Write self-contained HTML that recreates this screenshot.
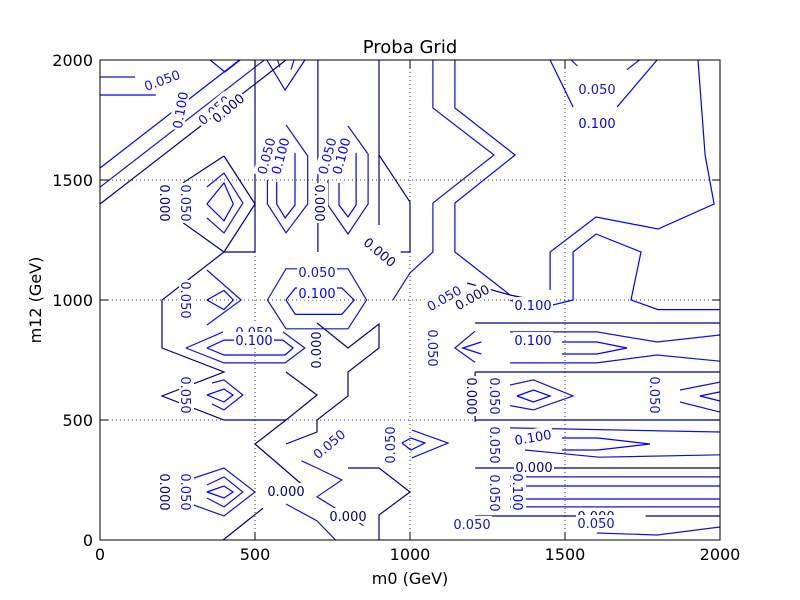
<!DOCTYPE html>
<html><head><meta charset="utf-8"><style>
html,body{margin:0;padding:0;background:#fff;}
svg{display:block;font-family:"DejaVu Sans","Liberation Sans",sans-serif;}
</style></head><body>
<svg id="chart" width="800" height="600" viewBox="0 0 800 600" xmlns="http://www.w3.org/2000/svg">
<rect x="0" y="0" width="800" height="600" fill="#fff"/>
<text x="410" y="53" font-size="18" text-anchor="middle">Proba Grid</text>
<g id="grid"></g>
<g id="contours"></g>
<g id="labels"></g>
<rect x="100" y="60" width="620" height="480" fill="none" stroke="#000" stroke-width="1"/>
<g id="ticks"></g>
<text x="410" y="584" font-size="16" text-anchor="middle">m0 (GeV)</text>
<text x="41" y="300" font-size="16" text-anchor="middle" transform="rotate(-90 41 300)">m12 (GeV)</text>
</svg>
<script>
const xTicks = [0, 500, 1000, 1500, 2000];
const yTicks = [0, 500, 1000, 1500, 2000];
const levels = ["0.000", "0.050", "0.100"];
const levelColors = ["#000080", "#1414c8", "#0000ff"];
// contour paths: [[m0, m12], ...]
const level0Paths = [
  [[0,1400],[600,2000]],
  [[500,2000],[500,1200],[400,1200],[200,1000],[200,800],[400,700],[200,600],[400,500],[600,500],[700,604],[600,700]],
  [[400,1600],[270,1490],[270,1320],[400,1200],[500,1400],[400,1600]],
  [[703,2000],[703,1200]],
  [[900,2000],[900,1604],[1000,1408],[1000,1200],[970,1200]],
  [[900,1604],[900,1312]],
  [[700,904],[800,800],[900,900],[900,800],[800,700],[800,600],[700,500],[700,450],[600,400]],
  [[600,500],[500,400],[661,221]],
  [[397,0],[526,133]],
  [[800,300],[900,300],[1000,200],[900,104],[900,0]],
  [[1184,1071],[1323,1021],[1400,1000]],
  [[1210,904],[2000,904]],
  [[1210,700],[2000,700]],
  [[1210,700],[1210,492]],
  [[1210,500],[2000,500]],
  [[1210,300],[2000,300]],
  [[1210,100],[1550,100]],[[1760,100],[2000,100]]
];
const level1Paths = [
  [[0,1929],[113,1929]],
  [[0,1470],[530,2000]],
  [[345,1471],[400,1529],[461,1404],[400,1279],[345,1342]],
  [[540,1500],[540,1400],[600,1280],[670,1400],[670,1600],[600,1730]],
  [[735,1500],[735,1396],[800,1275],[865,1400],[865,1608],[800,1725]],
  [[1074,2000],[1074,1800],[1271,1604],[1074,1404],[1074,1200],[1000,1113],[945,1000]],
  [[573,2000],[580,1970]],[[616,1960],[626,2000]],
  [[1520,2000],[1540,1975]],[[1700,1960],[1740,2000]],
  [[540,1000],[600,1130],[800,1130],[860,1000],[800,880],[600,880],[540,1000]],
  [[345,1125],[455,1000],[345,896]],
  [[277,800],[397,867]],[[590,867],[661,800],[597,738],[400,738],[277,800]],
  [[361,654],[400,667],[461,604],[400,542],[361,567]],
  [[284,250],[400,300],[500,200],[400,100],[284,154]],
  [[345,229],[400,263],[461,200],[400,138],[345,175]],
  [[1006,458],[1123,404],[1006,342]],
  [[1210,870],[1145,800],[1210,740]],
  [[1323,867],[1603,867],[1797,825],[2000,854]],
  [[1323,738],[1603,738],[1797,771],[2000,745]],
  [[1323,646],[1398,667],[1526,600],[1398,542],[1323,560]],
  [[2000,658],[1871,625]],[[1871,575],[2000,533]],
  [[1323,467],[2000,450]],
  [[1371,375],[1610,345],[2000,355]],
  [[1323,263],[2000,263]],
  [[1323,138],[2000,138]],
  [[1603,29],[1797,21],[2000,54]],
  [[650,330],[700,300],[780,250],[700,180],[800,100],[850,60]],
  [[600,150],[700,80],[760,0]]
];
const level2Paths = [
  [[0,1854],[180,1854]],
  [[0,1550],[450,2000]],
  [[355,2000],[403,1950],[452,2000]],
  [[538,2000],[597,1875],[661,2000]],
  [[570,1492],[570,1400],[597,1342],[629,1396],[629,1613]],
  [[771,1488],[771,1396],[800,1346],[826,1396],[826,1613]],
  [[345,1400],[400,1488],[430,1400],[400,1330],[345,1400]],
  [[1145,2000],[1145,1800],[1339,1604],[1145,1404],[1145,1200],[1323,1021]],
  [[1452,1042],[1452,1200],[1600,1346],[1800,1296],[1981,1400],[1952,1604],[1929,2000]],
  [[1323,1000],[1400,960],[1526,1000],[1526,1200],[1600,1275],[1745,1200],[1713,1000],[1800,960],[2000,960]],
  [[1452,2000],[1526,1804]],[[1668,1804],[1797,2000]],
  [[600,1000],[630,1050],[780,1050],[820,1000],[780,940],[630,940],[600,1000]],
  [[345,1000],[400,1040],[430,1000],[400,960],[345,1000]],
  [[345,800],[400,833],[590,833],[623,800],[597,771],[400,771],[345,800]],
  [[345,604],[400,629],[429,604],[400,575],[345,604]],
  [[345,200],[400,225],[429,200],[400,175],[345,200]],
  [[974,404],[1003,425],[1048,404],[1003,375],[974,404]],
  [[1230,825],[1170,800],[1230,775]],
  [[1490,825],[1603,825],[1700,800],[1603,775],[1490,775]],
  [[1345,600],[1398,625],[1452,600],[1398,575],[1345,600]],
  [[2000,617],[1935,600],[2000,579]],
  [[1490,425],[1606,425],[1774,400],[1606,375],[1490,375]],
  [[1323,225],[2000,225]],
  [[1323,171],[2000,171]]
];
const labelTexts = [
 ["0.050",162,80,-20,1],["0.100",180,110,-80,2],["0.050",214,110,-40,1],["0.000",228,108,-40,0],
 ["0.000",165,203,90,0],["0.050",186,203,90,1],["0.050",266,156,-75,1],["0.100",280,156,-75,2],
 ["0.050",327,156,-75,1],["0.100",341,156,-75,2],["0.000",320,203,90,0],["0.000",380,252,40,0],
 ["0.050",317,272,0,1],["0.100",317,293,0,2],["0.050",186,300,90,1],["0.050",254,332,0,1],
 ["0.100",254,340,0,2],["0.000",316,350,-90,0],["0.050",444,298,-30,1],["0.000",472,297,-30,0],
 ["0.100",533,305,0,2],["0.050",433,348,90,1],["0.100",533,340,0,2],["0.050",186,395,90,1],
 ["0.000",472,396,90,0],["0.050",495,396,90,1],["0.050",655,395,90,1],["0.050",329,444,-40,1],
 ["0.050",390,445,-90,1],["0.100",533,437,-10,2],["0.050",495,445,90,1],["0.000",534,467,0,0],
 ["0.050",495,493,90,1],["0.100",518,492,90,2],["0.000",165,492,90,0],["0.050",186,492,90,1],
 ["0.000",286,491,0,0],["0.000",348,516,0,0],["0.050",472,524,0,1],["0.000",596,516,0,0],
 ["0.050",596,523,0,1],["0.050",597,89,0,1],["0.100",597,123,0,2]
];
const NS = "http://www.w3.org/2000/svg";
const sx = v => 100 + v * 620 / 2000;
const sy = v => 540 - v * 480 / 2000;
function mk(tag, attrs, parent) {
  const e = document.createElementNS(NS, tag);
  for (const k in attrs) e.setAttribute(k, attrs[k]);
  parent.appendChild(e);
  return e;
}
const grid = document.getElementById('grid');
const ticks = document.getElementById('ticks');
xTicks.forEach(t => {
  const x = sx(t);
  if (t > 0 && t < 2000) {
    const g = mk('line', {x1:x, y1:60, x2:x, y2:540, stroke:'#000', 'stroke-width':0.8, 'stroke-dasharray':'1,3'}, grid);
    
    
  }
  const tk = mk('line', {x1:x, y1:540, x2:x, y2:532, stroke:'#000'}, ticks);
  
  
  mk('line', {x1:x, y1:60, x2:x, y2:68, stroke:'#000'}, ticks);
  const lb = mk('text', {x:x, y:560, 'font-size':16, 'text-anchor':'middle'}, ticks);
  
  
  lb.textContent = t;
});
yTicks.forEach(t => {
  const y = sy(t);
  if (t > 0 && t < 2000) {
    const g = mk('line', {x1:100, y1:y, x2:720, y2:y, stroke:'#000', 'stroke-width':0.8, 'stroke-dasharray':'1,3'}, grid);
    
    
  }
  const tk = mk('line', {x1:100, y1:y, x2:108, y2:y, stroke:'#000'}, ticks);
  
  
  mk('line', {x1:712, y1:y, x2:720, y2:y, stroke:'#000'}, ticks);
  const lb = mk('text', {x:93, y:y + 6, 'font-size':16, 'text-anchor':'end'}, ticks);
  
  
  lb.textContent = t;
});
const contours = document.getElementById('contours');
[level0Paths, level1Paths, level2Paths].forEach((paths, li) => {
  paths.forEach(p => {
    const pts = p.map(q => sx(q[0]).toFixed(1) + ',' + sy(q[1]).toFixed(1)).join(' ');
    const pl = mk('polyline', {points: pts, fill:'none', stroke: levelColors[li], 'stroke-width': 1.2}, contours);
    
    
  });
});
const labels = document.getElementById('labels');
labelTexts.forEach(l => {
  const g = mk('g', {transform: 'translate(' + l[1] + ',' + l[2] + ') rotate(' + l[3] + ')'}, labels);
  
  
  mk('rect', {x:-20, y:-8, width:40, height:15, fill:'#fff'}, g);
  const t = mk('text', {x:0, y:5, 'font-size':13, 'text-anchor':'middle', fill: levelColors[l[4]]}, g);
  t.textContent = l[0];
});
</script>
</body></html>
